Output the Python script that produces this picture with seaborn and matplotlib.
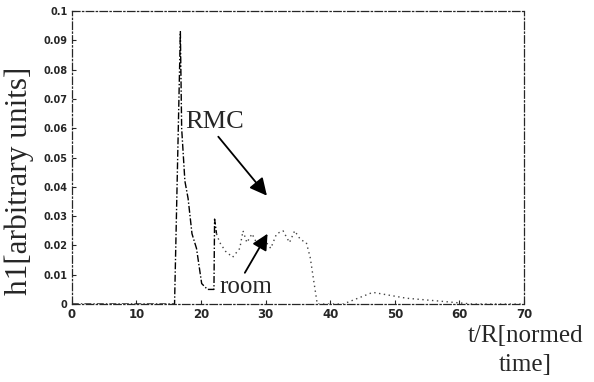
import matplotlib
matplotlib.use("Agg")
import matplotlib.pyplot as plt
import seaborn as sns
import pandas as pd

# data
rmc_t = [0, 15.9, 16.8, 17.0, 17.5, 18.0, 18.6, 19.3, 20.1, 21.0, 22.0, 22.1, 22.4]
rmc_h = [0, 0, 0.093, 0.060, 0.042, 0.036, 0.024, 0.019, 0.007, 0.005, 0.005, 0.029, 0.024]
room_t = [22.4, 22.9, 23.8, 24.9, 26.0, 26.5, 27.1, 27.9, 28.8, 29.8, 30.8, 31.7, 32.7,
          33.7, 34.5, 35.4, 36.3, 36.9, 38, 42, 46.6, 49.2, 51.8, 57, 62, 70]
room_h = [0.024, 0.021, 0.018, 0.016, 0.019, 0.025, 0.021, 0.024, 0.020, 0.022, 0.019,
          0.024, 0.025, 0.021, 0.025, 0.022, 0.021, 0.016, 0.0, 0.0, 0.004, 0.003, 0.002,
          0.001, 0.0, 0.0]
x_ticks = [0, 10, 20, 30, 40, 50, 60, 70]
y_ticks = [0, 0.01, 0.02, 0.03, 0.04, 0.05, 0.06, 0.07, 0.08, 0.09, 0.1]
y_tick_labels = ["0", "0.01", "0.02", "0.03", "0.04", "0.05", "0.06", "0.07", "0.08", "0.09", "0.1"]

sns.set_style("ticks")
plt.rcParams['font.family'] = ['DejaVu Sans']

fig = plt.figure(figsize=(5.94, 3.82), dpi=100)
ax = fig.add_axes([0.121, 0.204, 0.761, 0.767])

df_rmc = pd.DataFrame({"t": rmc_t, "h": rmc_h})
df_room = pd.DataFrame({"t": room_t, "h": room_h})
sns.lineplot(data=df_rmc, x="t", y="h", ax=ax, color="black", lw=1.0,
             linestyle=(0, (5, 1.5, 1, 1.5)), sort=False, estimator=None)
sns.lineplot(data=df_room, x="t", y="h", ax=ax, color="#444444", lw=1.0,
             linestyle=(0, (1, 2.5)), sort=False, estimator=None)

ax.set_xlim(0, 70)
ax.set_ylim(0, 0.1)
ax.set_xticks(x_ticks)
ax.set_xticklabels([str(v) for v in x_ticks], fontsize=8.5, fontweight="bold")
ax.set_yticks(y_ticks)
ax.set_yticklabels(y_tick_labels, fontsize=7, fontweight="bold")
ax.tick_params(direction="in", length=3, width=0.8, pad=3)
ax.set_xlabel("")
ax.set_ylabel("")
for s in ax.spines.values():
    s.set_visible(True)
    s.set_linewidth(0.9)
    s.set_linestyle((0, (6, 2, 1, 2)))

serif = ["Liberation Serif", "DejaVu Serif"]
ax.annotate("RMC", xy=(30.2, 0.037), xytext=(17.6, 0.062),
            fontsize=19, family=serif, ha="left", va="center",
            arrowprops=dict(arrowstyle="-|>", color="black", lw=1.3,
                            mutation_scale=26, shrinkA=0, shrinkB=0,
                            relpos=(0.45, 0.2)))
ax.annotate("room", xy=(30.3, 0.024), xytext=(26.9, 0.0058),
            fontsize=18, family=serif, ha="center", va="center",
            arrowprops=dict(arrowstyle="-|>", color="black", lw=1.3,
                            mutation_scale=24, shrinkA=0, shrinkB=0,
                            relpos=(0.45, 1.0)))

fig.text(0.032, 0.526, "h1[arbitrary units]", rotation=90, fontsize=22.5,
         family=serif, ha="center", va="center")
fig.text(0.885, 0.083, "t/R[normed\ntime]", fontsize=18, family=serif,
         ha="center", va="center", multialignment="center", linespacing=1.4)

fig.savefig("out.png", dpi=100)
